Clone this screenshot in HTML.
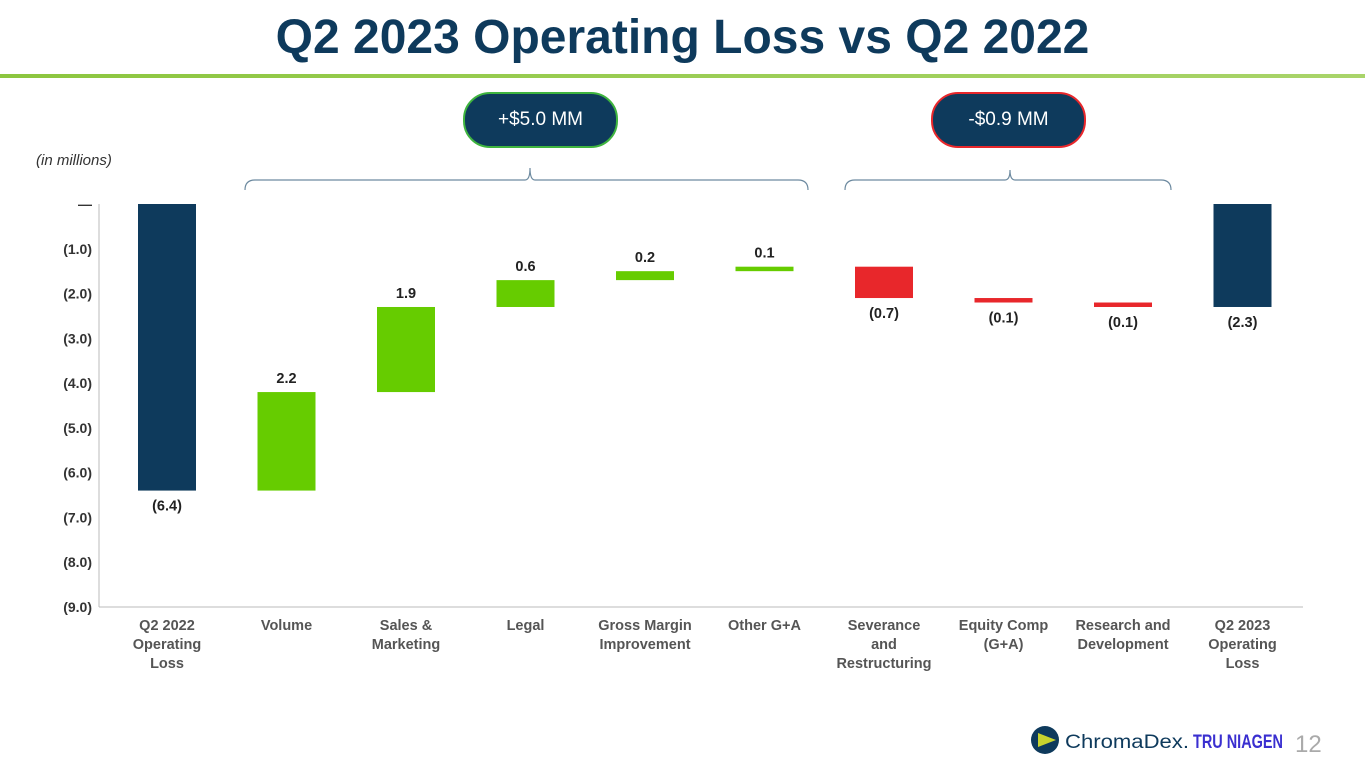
<!DOCTYPE html>
<html><head><meta charset="utf-8">
<style>
body{margin:0;width:1365px;height:768px;background:#fff;font-family:"Liberation Sans",sans-serif;overflow:hidden;position:relative}
.title{position:absolute;top:10px;left:0;width:1365px;text-align:center;font-size:48px;font-weight:bold;color:#0e3a5c}
.rule{position:absolute;top:74px;left:0;width:1365px;height:4px;background:linear-gradient(90deg,#8cc63f,#a9d46a)}
.pill{position:absolute;top:92px;height:56px;border-radius:27px;background:#0e3a5c;color:#fff;font-size:19px;display:flex;align-items:center;justify-content:center;box-sizing:border-box}
</style></head><body>
<div class="title">Q2 2023 Operating Loss vs Q2 2022</div>
<div class="rule"></div>
<div class="pill" style="left:463px;width:155px;border:2px solid #3fb43f">+$5.0 MM</div>
<div class="pill" style="left:931px;width:155px;border:2px solid #e8272b">-$0.9 MM</div>
<svg id="chart" width="1365" height="768" style="position:absolute;left:0;top:0">
<text x="36" y="165" font-size="15" font-style="italic" fill="#333">(in millions)</text>
<path d="M245,190 Q245,180 255,180 L525,180 Q530,180 530,168 Q530,180 535,180 L798,180 Q808,180 808,190" fill="none" stroke="#6d8aa0" stroke-width="1.2"/>
<path d="M845,190 Q845,180 855,180 L1005,180 Q1010,180 1010,170 Q1010,180 1015,180 L1161,180 Q1171,180 1171,190" fill="none" stroke="#6d8aa0" stroke-width="1.2"/>
<text x="1295" y="752" font-size="24" fill="#aaa">12</text>
<g>
<circle cx="1045" cy="740" r="14" fill="#0e3a5c"/><path d="M1038,733 L1056,740 L1038,747 Z" fill="#c8d42e"/>
<text x="1065" y="748" font-size="19" fill="#0e3a5c" textLength="124" lengthAdjust="spacingAndGlyphs">ChromaDex.</text>
<text x="1193" y="748" font-size="19" font-weight="bold" fill="#3a2fd0" textLength="90" lengthAdjust="spacingAndGlyphs">TRU NIAGEN</text>
</g>
</svg>
<script>
const categories=[["Q2 2022","Operating","Loss"],["Volume"],["Sales &","Marketing"],["Legal"],["Gross Margin","Improvement"],["Other G+A"],["Severance","and","Restructuring"],["Equity Comp","(G+A)"],["Research and","Development"],["Q2 2023","Operating","Loss"]];
const changes=[-6.4,2.2,1.9,0.6,0.2,0.1,-0.7,-0.1,-0.1];
const valueLabels=["(6.4)","2.2","1.9","0.6","0.2","0.1","(0.7)","(0.1)","(0.1)","(2.3)"];
const yTicks=[0,-1,-2,-3,-4,-5,-6,-7,-8,-9];
const yTickLabels=["—","(1.0)","(2.0)","(3.0)","(4.0)","(5.0)","(6.0)","(7.0)","(8.0)","(9.0)"];
const svg=document.getElementById('chart');
const NS='http://www.w3.org/2000/svg';
const y=v=>204+(-v)*(403/9);
const x=i=>167+i*119.5;
function mk(t,a,txt){const e=document.createElementNS(NS,t);for(const k in a)e.setAttribute(k,a[k]);if(txt!=null)e.textContent=txt;svg.appendChild(e);return e;}
let ax=mk('line',{x1:99,y1:204,x2:99,y2:607,stroke:'#bbb'});


let bx=mk('line',{x1:99,y1:607,x2:1303,y2:607,stroke:'#bbb'});


yTicks.forEach((t,i)=>{const e=mk('text',{x:92,y:y(t)+5,'text-anchor':'end','font-size':14,'font-weight':'bold',fill:'#333'},yTickLabels[i]);

});
let cum=0;const n=categories.length;
for(let i=0;i<n;i++){
 let top,bot,color,below;
 if(i==0){top=0;bot=changes[0];cum=changes[0];color='#0e3a5c';below=true;}
 else if(i==n-1){top=0;bot=cum;color='#0e3a5c';below=true;}
 else{const c=changes[i];const a=cum,b=cum+c;cum=b;top=Math.max(a,b);bot=Math.min(a,b);color=c>=0?'#66cc00':'#e8272b';below=c<0;}
 let h=Math.max(y(bot)-y(top),3.5);
 const r=mk('rect',{x:x(i)-29,y:y(top),width:58,height:h,fill:color});
 
 
 const ly=below?y(top)+h+20:y(top)-9;
 const t=mk('text',{x:x(i),y:ly,'text-anchor':'middle','font-size':14.5,'font-weight':'bold',fill:'#222'},valueLabels[i]);
 
 
 categories[i].forEach((s,j)=>{const c=mk('text',{x:x(i),y:630+j*19,'text-anchor':'middle','font-size':14.5,'font-weight':'bold',fill:'#555'},s);
 
 });
}
</script>
</body></html>
